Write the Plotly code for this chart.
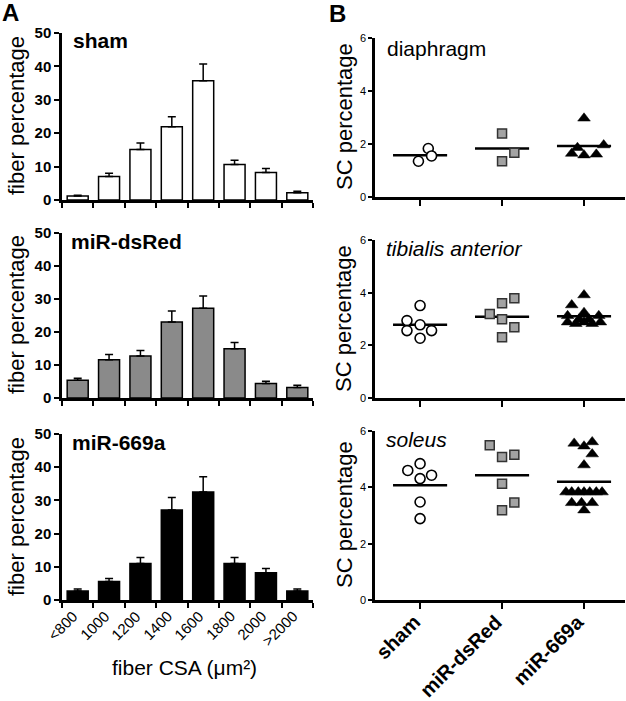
import plotly.graph_objects as go

W, H = 626, 701

# ---------------- data: panel A ----------------
csa_bins = ["&lt;800", "1000", "1200", "1400", "1600", "1800", "2000", "&gt;2000"]
sham_pct = [1.2, 7.0, 15.1, 21.9, 35.7, 10.6, 8.2, 2.2]
sham_err = [0.2, 1.0, 2.0, 3.0, 5.0, 1.3, 1.2, 0.4]
dsred_pct = [5.4, 11.6, 12.7, 23.0, 27.2, 14.9, 4.4, 3.2]
dsred_err = [0.6, 1.6, 1.7, 3.4, 3.7, 1.9, 0.7, 0.7]
mir669_pct = [2.7, 5.6, 11.0, 27.1, 32.5, 11.0, 8.2, 2.7]
mir669_err = [0.6, 0.9, 1.8, 3.8, 4.6, 1.8, 1.3, 0.6]

# ---------------- data: panel B ----------------
groups = ["sham", "miR-dsRed", "miR-669a"]
dia_sham = [1.83, 1.35, 1.55]
dia_dsred = [2.40, 1.67, 1.35]
dia_669 = [2.97, 1.64, 1.58, 1.61, 1.96, 1.86]
dia_means = [1.58, 1.83, 1.92]

ta_sham = [3.51, 2.94, 2.78, 2.56, 2.56, 2.27]
ta_dsred = [3.79, 3.60, 3.19, 2.99, 2.69, 2.31]
ta_669 = [3.91, 3.53, 3.24, 3.12, 3.12, 2.99, 2.99, 2.88, 2.88, 2.88, 2.82, 2.82]
ta_means = [2.78, 3.09, 3.10]

sol_sham = [4.84, 4.60, 4.31, 4.43, 3.48, 2.89]
sol_dsred = [5.49, 5.08, 5.16, 4.13, 3.46, 3.19]
sol_669 = [5.56, 5.46, 5.61, 5.18, 4.79, 3.83, 3.83, 3.83, 3.83, 3.83, 3.83, 3.83, 3.45, 3.45, 3.45, 3.19]
sol_means = [4.07, 4.43, 4.20]

# horizontal scatter offsets (layout only)
dia_dx = ([0.10, -0.02, 0.14], [0.0, 0.15, 0.0], [0.0, -0.15, 0.0, 0.15, 0.24, -0.08])
ta_dx = ([0.0, -0.16, 0.0, -0.16, 0.14, 0.0], [0.15, 0.0, -0.15, 0.0, 0.15, 0.0],
         [0.0, -0.15, 0.0, -0.2, 0.18, -0.06, 0.06, -0.2, 0.0, 0.2, -0.1, 0.1])
sol_dx = ([0.0, -0.15, 0.0, 0.14, 0.0, 0.0], [-0.15, 0.0, 0.15, 0.0, 0.15, 0.0],
          [-0.12, 0.0, 0.1, 0.1, 0.0, -0.22, -0.15, -0.07, 0.0, 0.07, 0.15, 0.22, -0.15, -0.03, 0.1, 0.0])

FONT = "Liberation Sans, Arial, sans-serif"


def px(x):
    return x / W


def py(y):
    return 1 - y / H


fig = go.Figure()

bar_sets = [(sham_pct, sham_err, "white"), (dsred_pct, dsred_err, "#8a8a8a"), (mir669_pct, mir669_err, "black")]
for i, (vals, errs, col) in enumerate(bar_sets):
    ax = "" if i == 0 else str(i + 1)
    fig.add_trace(go.Bar(
        x=csa_bins, y=vals, width=0.67,
        marker=dict(color=col, line=dict(color="black", width=1.5)),
        error_y=dict(type="data", array=errs, arrayminus=[0] * len(errs), symmetric=False,
                     color="black", thickness=1.5, width=4),
        xaxis="x" + ax, yaxis="y" + ax, showlegend=False,
    ))

marker_styles = [
    dict(symbol="circle", size=10, color="white", line=dict(color="black", width=1.6)),
    dict(symbol="square", size=9, color="#a3a3a3", line=dict(color="#333333", width=1.5)),
    dict(symbol="triangle-up", size=11, color="black", line=dict(color="black", width=0.5)),
]

b_sets = [
    ((dia_sham, dia_dsred, dia_669), dia_dx, dia_means),
    ((ta_sham, ta_dsred, ta_669), ta_dx, ta_means),
    ((sol_sham, sol_dsred, sol_669), sol_dx, sol_means),
]
for j, (series, dxs, means) in enumerate(b_sets):
    ax = str(j + 4)
    for g, (vals, dx) in enumerate(zip(series, dxs)):
        fig.add_trace(go.Scatter(
            x=[g - 0.33, g + 0.33], y=[means[g], means[g]], mode="lines",
            line=dict(color="black", width=2.5), xaxis="x" + ax, yaxis="y" + ax, showlegend=False))
        fig.add_trace(go.Scatter(
            x=[g + d for d in dx], y=vals, mode="markers", marker=marker_styles[g],
            xaxis="x" + ax, yaxis="y" + ax, showlegend=False, cliponaxis=False))

a_dom_x = [px(62), px(313)]
b_dom_x = [px(375), px(625)]
a_dom_y = [[py(200), py(33)], [py(398), py(233)], [py(600), py(434)]]
b_dom_y = [[py(197), py(38)], [py(398), py(240)], [py(600), py(431)]]

layout = dict(
    width=W, height=H, margin=dict(l=0, r=0, t=0, b=0, autoexpand=False),
    paper_bgcolor="white", plot_bgcolor="white",
    font=dict(family=FONT, color="black"),
    bargap=0.33,
)

for i in range(3):
    ax = "" if i == 0 else str(i + 1)
    layout["xaxis" + ax] = dict(
        domain=a_dom_x, anchor="y" + ax, type="category", range=[-0.5, 7.5], automargin=False,
        showline=True, linecolor="black", linewidth=2.5, showgrid=False, zeroline=False,
        ticks="outside", tickson="boundaries", ticklen=5, tickwidth=2, tickcolor="black",
        showticklabels=False, fixedrange=True,
    )
    layout["yaxis" + ax] = dict(
        domain=a_dom_y[i], anchor="x" + ax, range=[0, 50], tickvals=[0, 10, 20, 30, 40, 50],
        automargin=False,
        showline=True, linecolor="black", linewidth=2.5, showgrid=False, zeroline=False,
        ticks="outside", ticklen=5, tickwidth=2, tickcolor="black",
        tickfont=dict(size=15, family=FONT, weight="bold"),
    )

for j in range(3):
    ax = str(j + 4)
    layout["xaxis" + ax] = dict(
        domain=b_dom_x, anchor="y" + ax, range=[-0.55, 2.5], automargin=False,
        tickvals=[0, 1, 2],
        showline=True, linecolor="black", linewidth=2.5, showgrid=False, zeroline=False,
        ticks="outside", ticklen=6, tickwidth=2, tickcolor="black",
        showticklabels=False,
    )
    layout["yaxis" + ax] = dict(
        domain=b_dom_y[j], anchor="x" + ax, range=[0, 6], tickvals=[0, 2, 4, 6], automargin=False,
        showline=True, linecolor="black", linewidth=2.5, showgrid=False, zeroline=False,
        ticks="outside", ticklen=4, tickwidth=1.5, tickcolor="black",
        tickfont=dict(size=11, family=FONT),
    )

annotations = []


def ann(text, x, y, size, xanchor="left", yanchor="middle", bold=False, italic=False, angle=0):
    f = dict(size=size, family=FONT, color="black")
    if bold:
        f["weight"] = "bold"
    if italic:
        f["style"] = "italic"
    annotations.append(dict(text=text, x=px(x), y=py(y), xref="paper", yref="paper",
                            xanchor=xanchor, yanchor=yanchor, showarrow=False, font=f,
                            textangle=angle))


ann("A", 10, 12, 24, xanchor="center", bold=True)
ann("B", 337, 14, 24, xanchor="center", bold=True)
ann("sham", 71, 40, 21, bold=True)
ann("miR-dsRed", 69, 241, 21, bold=True)
ann("miR-669a", 70, 442, 21, bold=True)
ann("diaphragm", 385, 48, 21)
ann("tibialis anterior", 384, 249, 21, italic=True)
ann("soleus", 384, 440, 21, italic=True)
for yc in (116, 315, 517):
    ann("fiber percentage", 16, yc, 22, xanchor="center", angle=-90)
for yc in (117, 319, 515):
    ann("SC percentage", 344, yc, 22, xanchor="center", angle=-90)
ann("fiber CSA (μm²)", 184, 667, 21, xanchor="center")

# rotated category labels placed on the axes' own coordinates
for k, lab in enumerate(csa_bins):
    annotations.append(dict(text=lab, x=k, y=py(605), xref="x3", yref="paper",
                            xanchor="right", yanchor="top", xshift=6, showarrow=False,
                            textangle=-45, font=dict(size=15, family=FONT, color="black")))
for k, lab in enumerate(groups):
    annotations.append(dict(text=lab, x=k, y=py(608), xref="x6", yref="paper",
                            xanchor="right", yanchor="top", xshift=7, showarrow=False,
                            textangle=-45,
                            font=dict(size=20, family=FONT, color="black", weight="bold")))

layout["annotations"] = annotations
fig.update_layout(**layout)
fig.write_html("out.html", config={"displayModeBar": False},
               post_script="document.body.style.margin='0px';document.body.style.overflow='hidden';")
